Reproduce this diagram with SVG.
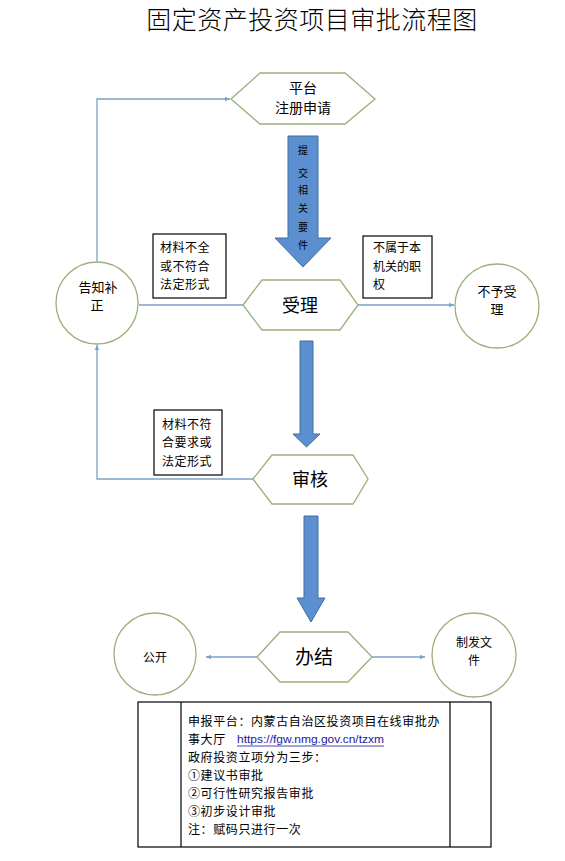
<svg xmlns="http://www.w3.org/2000/svg" width="565" height="861" viewBox="0 0 565 861">
<style>
text{font-family:"Noto Sans CJK SC","Liberation Sans",sans-serif;fill:#000}
.hex{fill:#fff;stroke:#9bb07a;stroke-width:1.3}
.cir{fill:#fff;stroke:#9bb07a;stroke-width:1.3}
.box{fill:#fff;stroke:#000;stroke-width:1.2}
.con{fill:none;stroke:#7aa2c8;stroke-width:1.3}
.big{fill:#5b8fd0;stroke:#41719c;stroke-width:1}
.t12{font-size:12px}
.t13{font-size:13px}
.mid{text-anchor:middle}
.tb{font-size:12px;letter-spacing:0.6px}
</style>
<defs>
<marker id="ah" viewBox="0 0 10 10" refX="9" refY="5" markerWidth="6" markerHeight="6" orient="auto" markerUnits="userSpaceOnUse">
<path d="M0,1 L9,5 L0,9 Z" fill="#7aa2c8"/>
</marker>
</defs>
<rect width="565" height="861" fill="#fff"/>
<text x="312" y="29" class="mid" style="font-size:25px;font-weight:300;letter-spacing:0.5px">固定资产投资项目审批流程图</text>

<g id="connectors">
<polyline class="con" points="97,262 97,99 230,99" marker-end="url(#ah)"/>
<line class="con" x1="139" y1="305" x2="243" y2="305"/>
<line class="con" x1="358" y1="305" x2="454" y2="305" marker-end="url(#ah)"/>
<polyline class="con" points="253,479 97,479 97,345" marker-end="url(#ah)"/>
<line class="con" x1="257" y1="657" x2="206" y2="657" marker-end="url(#ah)"/>
<line class="con" x1="372" y1="657" x2="425" y2="657" marker-end="url(#ah)"/>
<g id="arrow1">
<polygon class="big" points="288,136 318,136 318,238 331,238 303,267 275,238 288,238"/>
<text class="mid" x="303" y="154" style="font-size:10px">提</text>
<text class="mid" x="303" y="177" style="font-size:10px">交</text>
<text class="mid" x="303" y="194" style="font-size:10px">相</text>
<text class="mid" x="303" y="212" style="font-size:10px">关</text>
<text class="mid" x="303" y="231" style="font-size:10px">要</text>
<text class="mid" x="303" y="249" style="font-size:10px">件</text>
</g>
<polygon id="arrow2" class="big" points="300,341 313,341 313,434 320,434 306.5,447 293,434 300,434"/>
<polygon id="arrow3" class="big" points="304,516 318,516 318,598 325,598 311,622 297,598 304,598"/>
</g>

<g id="n-platform">
<polygon class="hex" points="231,99 260,73 345,73 375,99 345,124 260,124"/>
<text class="mid" x="303" y="93" style="font-size:14px">平台</text>
<text class="mid" x="303" y="113" style="font-size:14px">注册申请</text>
</g>

<g id="n-note1">
<rect class="box" x="153" y="234" width="73" height="64"/>
<text class="t12" x="160" y="252" style="letter-spacing:0.5px">材料不全</text>
<text class="t12" x="160" y="271" style="letter-spacing:0.5px">或不符合</text>
<text class="t12" x="160" y="289" style="letter-spacing:0.5px">法定形式</text>
</g>

<g id="n-note2">
<rect class="box" x="363" y="236" width="69" height="62"/>
<text class="t12" x="373" y="252">不属于本</text>
<text class="t12" x="373" y="271">机关的职</text>
<text class="t12" x="373" y="289">权</text>
</g>

<g id="n-accept">
<polygon class="hex" points="243,305 262,280 340,280 358,305 340,330 262,330"/>
<text class="mid" x="300" y="312" style="font-size:18px">受理</text>
</g>

<g id="n-notify">
<circle class="cir" cx="97" cy="303" r="41"/>
<text class="t13 mid" x="98" y="292">告知补</text>
<text class="t13 mid" x="97" y="310">正</text>
</g>

<g id="n-reject">
<circle class="cir" cx="497" cy="306" r="42"/>
<text class="t13 mid" x="497" y="296">不予受</text>
<text class="t13 mid" x="497" y="314">理</text>
</g>

<g id="n-note3">
<rect class="box" x="154" y="410" width="68" height="65"/>
<text class="t12" x="162" y="429" style="letter-spacing:0.5px">材料不符</text>
<text class="t12" x="162" y="447" style="letter-spacing:0.5px">合要求或</text>
<text class="t12" x="162" y="466" style="letter-spacing:0.5px">法定形式</text>
</g>

<g id="n-review">
<polygon class="hex" points="253,479 272,455 353,455 368,479 353,504 272,504"/>
<text class="mid" x="310" y="486" style="font-size:18px">审核</text>
</g>

<g id="n-finish">
<polygon class="hex" points="257,657 280,632 348,632 372,657 348,682 280,682"/>
<text class="mid" x="314" y="664" style="font-size:19px">办结</text>
</g>

<g id="n-public">
<circle class="cir" cx="155" cy="654" r="41"/>
<text class="t12 mid" x="155" y="662">公开</text>
</g>

<g id="n-issue">
<circle class="cir" cx="474" cy="655" r="42"/>
<text class="t12 mid" x="474" y="647">制发文</text>
<text class="t12 mid" x="474" y="665">件</text>
</g>

<g id="n-table">
<rect class="box" x="138" y="702" width="353" height="145"/>
<line x1="181" y1="702" x2="181" y2="847" stroke="#000" stroke-width="1.2"/>
<line x1="450" y1="702" x2="450" y2="847" stroke="#000" stroke-width="1.2"/>
<text x="188" y="726" class="tb">申报平台：内蒙古自治区投资项目在线审批办</text>
<text x="188" y="744" class="tb">事大厅</text>
<text x="237" y="743" style="font-family:'Liberation Sans',sans-serif;font-size:11px;fill:#1a1aa0" textLength="147" lengthAdjust="spacingAndGlyphs">https://fgw.nmg.gov.cn/tzxm</text>
<line x1="237" y1="746" x2="384" y2="746" stroke="#1a1aa0" stroke-width="0.8"/>
<text x="188" y="762" class="tb">政府投资立项分为三步：</text>
<text x="188" y="780" class="tb">①建议书审批</text>
<text x="188" y="798" class="tb">②可行性研究报告审批</text>
<text x="188" y="816" class="tb">③初步设计审批</text>
<text x="188" y="834" class="tb">注：赋码只进行一次</text>
</g>
</svg>
